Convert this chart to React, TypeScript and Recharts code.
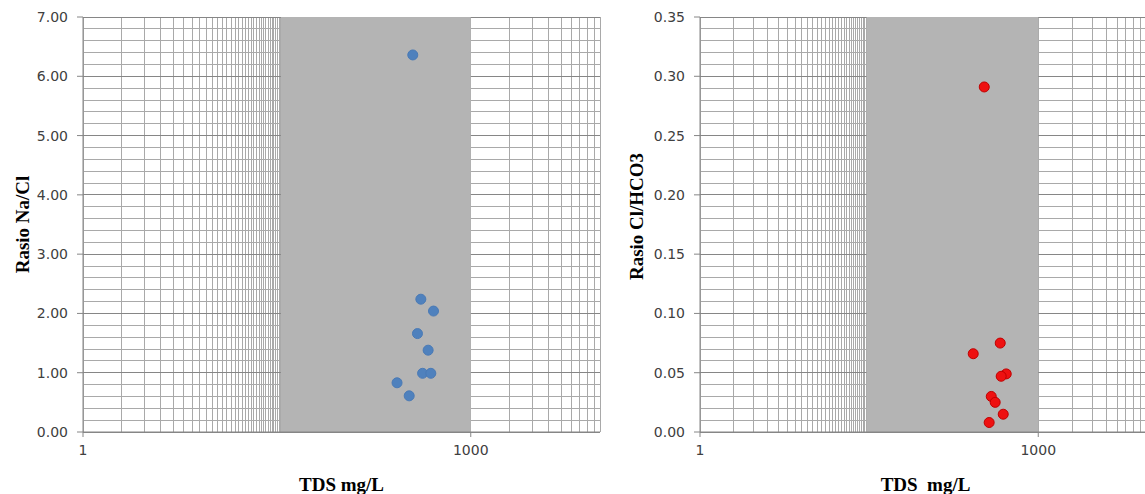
import { CartesianGrid, Label, ReferenceArea, Scatter, ScatterChart, XAxis, YAxis } from "recharts"

// nilai (TDS mg/L vs rasio)
const tdsNaCl = [356, 411, 515, 387, 468, 424, 491, 269, 334]
const rasioNaCl = [6.36, 2.24, 2.04, 1.66, 1.38, 0.99, 0.99, 0.83, 0.61]

const tdsClHco3 = [332, 460, 265, 520, 469, 383, 415, 489, 367]
const rasioClHco3 = [0.291, 0.075, 0.066, 0.049, 0.047, 0.03, 0.025, 0.015, 0.008]

const xTicks = [1, 1000]
const naClTicks = [0, 1, 2, 3, 4, 5, 6, 7]
const clHco3Ticks = [0, 0.05, 0.1, 0.15, 0.2, 0.25, 0.3, 0.35]

// daerah abu-abu (garis bantu yang rapat)
const bandNaCl = [34, 1000]
const bandClHco3 = [30, 1000]

// garis bantu minor seperti excel (basis log 1000)
const minorX: number[] = []
for (let i = 1; i < 1000; i++) minorX.push(i)
for (let i = 1000; i <= 10000; i += 1000) minorX.push(i)

const minorNaCl: number[] = []
for (let i = 0; i <= 35; i++) minorNaCl.push(+(i * 0.2).toFixed(2))
const minorClHco3: number[] = []
for (let i = 0; i <= 35; i++) minorClHco3.push(+(i * 0.01).toFixed(2))

const tickFont = { fontFamily: "DejaVu Sans", fontSize: 14, fill: "#404040" }
const titleFont = { fontFamily: "Liberation Serif", fontWeight: "bold" as const, fontSize: 19, fill: "#000" }

function YTitle(props: any) {
  const { viewBox, value, tx, dy } = props
  const cy = viewBox.y + viewBox.height / 2 + (dy || 0)
  return (
    <text x={tx} y={cy} transform={`rotate(-90, ${tx}, ${cy})`} textAnchor="middle" dominantBaseline="central" {...titleFont}>
      {value}
    </text>
  )
}

function XTitle(props: any) {
  const { viewBox, value } = props
  const cx = viewBox.x + viewBox.width / 2
  return (
    <text x={cx} y={484} textAnchor="middle" dominantBaseline="central" {...titleFont}>
      {value}
    </text>
  )
}

function Dot(props: any) {
  const { cx, cy, fill, stroke } = props
  return <circle cx={cx} cy={cy} r={5} fill={fill} stroke={stroke} strokeWidth={1} />
}

type PlotProps = {
  tds: number[]
  ratio: number[]
  left: number
  width: number
  yWidth: number
  marginRight: number
  yMax: number
  yTicks: number[]
  yMinor: number[]
  band: number[]
  yTitle: string
  yTitleX: number
  yTitleDy: number
  xTitle: string
  fill: string
  stroke: string
}

function RatioPlot(p: PlotProps) {
  const data = p.tds.map((x, i) => ({ x, y: p.ratio[i] }))
  return (
    <div style={{ position: "absolute", left: p.left, top: 0 }}>
      <ScatterChart width={p.width} height={494} margin={{ top: 17, right: p.marginRight, bottom: 0, left: 0 }}>
        <CartesianGrid stroke="#a9a9a9" shapeRendering="crispEdges" verticalValues={minorX} horizontalValues={p.yMinor} />
        <CartesianGrid stroke="#868686" shapeRendering="crispEdges" vertical={false} horizontalValues={p.yTicks} />
        <ReferenceArea x1={p.band[0]} x2={p.band[1]} fill="#b4b4b4" fillOpacity={1} stroke="none" />
        <XAxis
          type="number"
          dataKey="x"
          scale="log"
          domain={[1, 10000]}
          ticks={xTicks}
          interval={0}
          allowDataOverflow
          height={62}
          stroke="#868686"
          tickSize={5}
          tickMargin={8}
          tick={tickFont}
        >
          <Label value={p.xTitle} content={<XTitle />} />
        </XAxis>
        <YAxis
          type="number"
          dataKey="y"
          domain={[0, p.yMax]}
          ticks={p.yTicks}
          interval={0}
          allowDataOverflow
          width={p.yWidth}
          stroke="#868686"
          tickSize={6}
          tickMargin={9}
          tick={tickFont}
          tickFormatter={(v: number) => v.toFixed(2)}
        >
          <Label value={p.yTitle} content={<YTitle tx={p.yTitleX} dy={p.yTitleDy} />} />
        </YAxis>
        <Scatter data={data} fill={p.fill} stroke={p.stroke} isAnimationActive={false} shape={<Dot />} />
      </ScatterChart>
    </div>
  )
}

export default function App() {
  return (
    <div style={{ position: "absolute", left: 0, top: 0, width: 1145, height: 494, overflow: "hidden", background: "#fff" }}>
      <RatioPlot
        tds={tdsNaCl}
        ratio={rasioNaCl}
        left={0}
        width={610}
        yWidth={83}
        marginRight={10}
        yMax={7}
        yTicks={naClTicks}
        yMinor={minorNaCl}
        band={bandNaCl}
        yTitle="Rasio Na/Cl"
        yTitleX={22}
        yTitleDy={0}
        xTitle="TDS mg/L"
        fill="#4f81bd"
        stroke="#4a7ab5"
      />
      <RatioPlot
        tds={tdsClHco3}
        ratio={rasioClHco3}
        left={610}
        width={545}
        yWidth={90}
        marginRight={4}
        yMax={0.35}
        yTicks={clHco3Ticks}
        yMinor={minorClHco3}
        band={bandClHco3}
        yTitle="Rasio Cl/HCO3"
        yTitleX={26}
        yTitleDy={-8}
        xTitle={"TDS\u00A0\u00A0mg/L"}
        fill="#ee1111"
        stroke="#c00000"
      />
    </div>
  )
}
